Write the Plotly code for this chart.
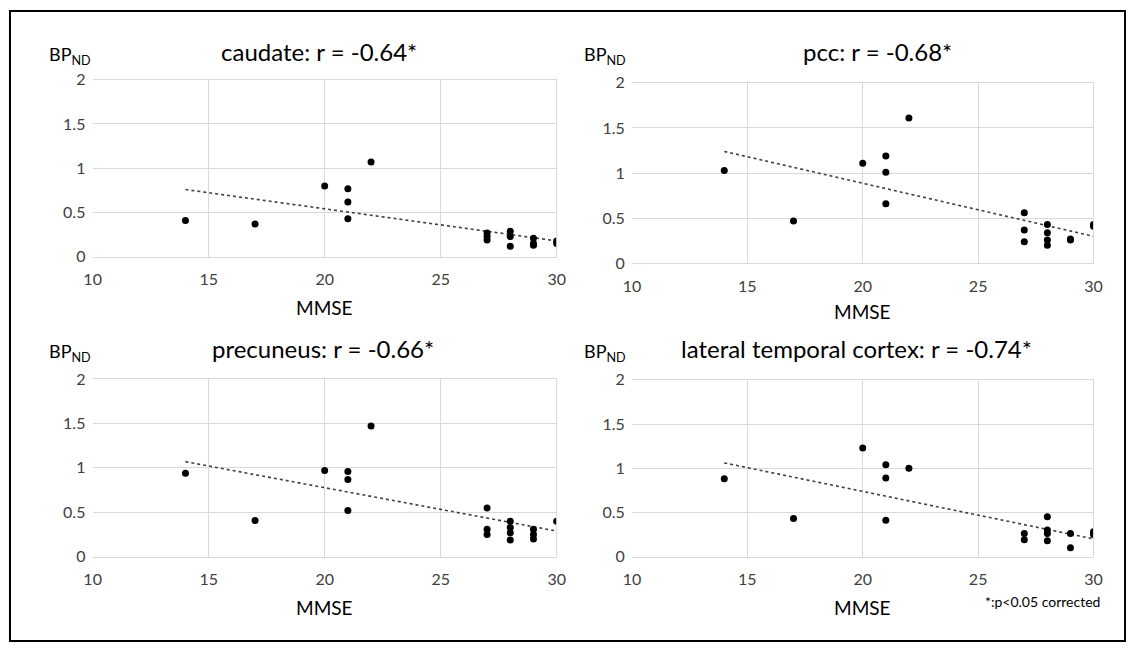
import plotly.graph_objects as go

# ---------------- data ----------------
mmse_ticks = [10, 15, 20, 25, 30]
bp_ticks = [0, 0.5, 1, 1.5, 2]
bp_tick_text = ["0", "0.5", "1", "1.5", "2"]

caudate_x = [14, 17, 20, 21, 21, 21, 22, 27, 27, 27, 28, 28, 28, 29, 29, 29, 30, 30]
caudate_y = [0.41, 0.37, 0.80, 0.77, 0.62, 0.43, 1.07, 0.27, 0.23, 0.19, 0.29, 0.23, 0.12, 0.21, 0.15, 0.13, 0.18, 0.15]
caudate_fit = [0.76, 0.18]

pcc_x = [14, 17, 20, 21, 21, 21, 22, 27, 27, 27, 28, 28, 28, 28, 29, 29, 30, 30]
pcc_y = [1.03, 0.47, 1.11, 1.19, 1.01, 0.66, 1.61, 0.56, 0.37, 0.24, 0.43, 0.34, 0.26, 0.20, 0.27, 0.26, 0.43, 0.41]
pcc_fit = [1.24, 0.30]

precuneus_x = [14, 17, 20, 21, 21, 21, 22, 27, 27, 27, 28, 28, 28, 28, 29, 29, 29, 30]
precuneus_y = [0.94, 0.41, 0.97, 0.96, 0.87, 0.52, 1.47, 0.55, 0.31, 0.25, 0.40, 0.33, 0.27, 0.19, 0.31, 0.25, 0.20, 0.40]
precuneus_fit = [1.07, 0.29]

ltc_x = [14, 17, 20, 21, 21, 21, 22, 27, 27, 28, 28, 28, 28, 29, 29, 30, 30]
ltc_y = [0.88, 0.43, 1.23, 1.04, 0.89, 0.41, 1.00, 0.26, 0.19, 0.45, 0.30, 0.26, 0.18, 0.26, 0.10, 0.28, 0.25]
ltc_fit = [1.06, 0.20]

fit_x = [14, 30]

panels = [
    ("caudate: r = -0.64*", caudate_x, caudate_y, caudate_fit),
    ("pcc: r = -0.68*", pcc_x, pcc_y, pcc_fit),
    ("precuneus: r = -0.66*", precuneus_x, precuneus_y, precuneus_fit),
    ("lateral temporal cortex: r = -0.74*", ltc_x, ltc_y, ltc_fit),
]

# ---------------- layout geometry (pixels) ----------------
W, H = 1135, 651
# (left, right, top, bottom) of each plot area in pixels
boxes = [
    (85, 556.5, 71.7, 254.3),
    (633, 1102, 75, 261),
    (85, 556.5, 380, 563.3),
    (633, 1102, 381, 563),
]
title_x = [315, 883, 319, 861]
title_y = [43, 43, 349, 349]
bp_x = [39, 582, 39, 582]
mmse_y = [306, 311, 615, 615]

FONT = "Lato, Open Sans, sans-serif"
GRID = "#d9d9d9"
TICKC = "#404040"

fig = go.Figure()
annotations = []
shapes = []

def fx(px):
    return px / W

def fy(py):
    return 1 - py / H

for i, (title, xs, ys, fit) in enumerate(panels):
    n = i + 1
    xa = "x" if n == 1 else f"x{n}"
    ya = "y" if n == 1 else f"y{n}"
    l, r, t, b = boxes[i]

    fig.add_trace(go.Scatter(
        x=fit_x, y=fit, mode="lines",
        line=dict(color="#404040", width=1.6, dash="dot"),
        xaxis=xa, yaxis=ya, showlegend=False, hoverinfo="skip"))
    fig.add_trace(go.Scatter(
        x=xs, y=ys, mode="markers",
        marker=dict(color="black", size=7),
        xaxis=xa, yaxis=ya, showlegend=False))

    xkey = "xaxis" if n == 1 else f"xaxis{n}"
    ykey = "yaxis" if n == 1 else f"yaxis{n}"
    fig.update_layout({
        xkey: dict(
            domain=[fx(l), fx(r)], anchor=ya, range=[10, 30],
            tickvals=mmse_ticks, showgrid=True, gridcolor=GRID, gridwidth=1,
            zeroline=False, showline=True, linecolor=GRID, linewidth=1, mirror=True,
            ticks="outside", ticklen=8, tickcolor="rgba(0,0,0,0)",
            tickfont=dict(family=FONT, size=16, color=TICKC), fixedrange=True),
        ykey: dict(
            domain=[fy(b), fy(t)], anchor=xa, range=[0, 2],
            tickvals=bp_ticks, ticktext=bp_tick_text, showgrid=True, gridcolor=GRID,
            gridwidth=1, zeroline=False, showline=False,
            ticks="outside", ticklen=3, tickcolor="rgba(0,0,0,0)",
            tickfont=dict(family=FONT, size=16, color=TICKC), fixedrange=True),
    })

    # right border line of the plot area (gridline at MMSE = 30)
    shapes.append(dict(type="line", xref=f"{xa} domain", yref=f"{ya} domain",
                       x0=1, x1=1, y0=0, y1=1, line=dict(color=GRID, width=1)))

    annotations.append(dict(
        text=title, x=fx(title_x[i]), y=fy(title_y[i]), xref="paper", yref="paper",
        xanchor="center", yanchor="middle", showarrow=False,
        font=dict(family=FONT, size=24, color="black")))
    annotations.append(dict(
        text="BP<sub>ND</sub>", x=fx(bp_x[i]), y=fy(title_y[i] + 4), xref="paper", yref="paper",
        xanchor="left", yanchor="middle", showarrow=False,
        font=dict(family=FONT, size=18, color="black")))
    annotations.append(dict(
        text="MMSE", x=fx((l + r) / 2), y=fy(mmse_y[i]), xref="paper", yref="paper",
        xanchor="center", yanchor="middle", showarrow=False,
        font=dict(family=FONT, size=19, color="black")))

annotations.append(dict(
    text="*:p<0.05 corrected", x=fx(1111), y=fy(609), xref="paper", yref="paper",
    xanchor="right", yanchor="middle", showarrow=False,
    font=dict(family=FONT, size=14, color="black")))

# outer frame
shapes.append(dict(type="rect", xref="paper", yref="paper", x0=fx(1), x1=fx(1134),
                   y0=fy(650), y1=fy(1), line=dict(color="black", width=2)))

fig.update_layout(
    width=W, height=H, margin=dict(l=0, r=0, t=0, b=0),
    paper_bgcolor="white", plot_bgcolor="white",
    annotations=annotations, shapes=shapes, showlegend=False,
)

fig.write_html(
    "out.html",
    config={"displayModeBar": False},
    post_script="document.body.style.margin='0';document.body.style.overflow='hidden';",
)
